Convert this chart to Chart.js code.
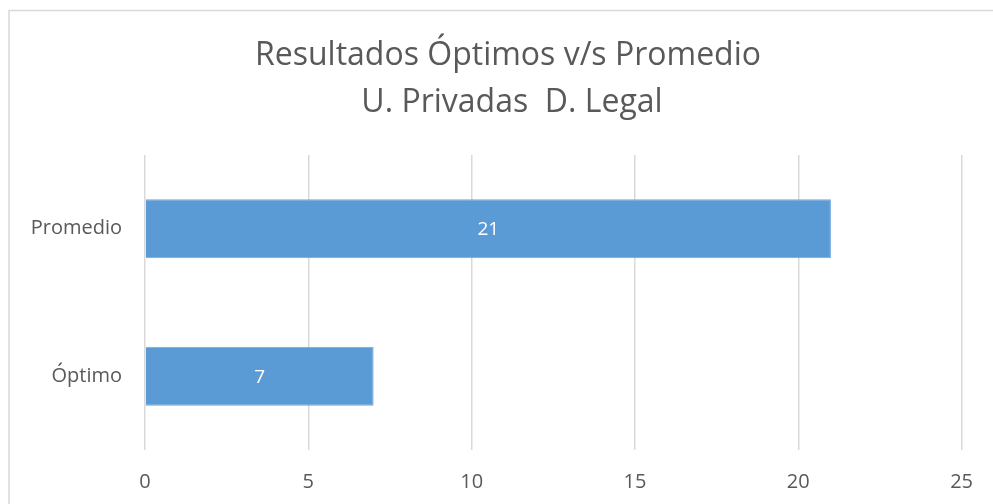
<!DOCTYPE html>
<html>
<head>
<meta charset="utf-8">
<script src="https://cdn.jsdelivr.net/npm/chart.js@4.4.1/dist/chart.umd.min.js"></script>
<style>
  html, body { margin: 0; padding: 0; background: #fff; }
  #wrap { width: 993px; height: 504px; position: relative; }
</style>
</head>
<body>
<div id="wrap"><canvas id="graphique"></canvas></div>
<script>
// Données du graphique
const categories = ["Promedio", "Óptimo"];
const valeurs = [21, 7];
const titre = ["Resultados Óptimos v/s Promedio", "U. Privadas  D. Legal"];
const ticksMin = 0;
const ticksMax = 25;
const ticksPas = 5;

const police = "'Open Sans', 'DejaVu Sans', sans-serif";
const gris = "#595959";

// Cadre gris autour du graphique + titre sur deux lignes
const cadre = {
  id: "cadre",
  beforeDraw(chart) {
    const ctx = chart.ctx;
    ctx.save();
    ctx.strokeStyle = "#d9d9d9";
    ctx.lineWidth = 1.5;
    ctx.beginPath();
    ctx.moveTo(9, 504);
    ctx.lineTo(9, 10.5);
    ctx.lineTo(993, 10.5);
    ctx.stroke();

    ctx.fillStyle = gris;
    ctx.font = "32px " + police;
    ctx.textAlign = "center";
    ctx.textBaseline = "middle";
    ctx.fillText(titre[0], 508, 56);
    ctx.fillText(titre[1], 512, 103);
    ctx.restore();
  }
};

// Étiquettes des valeurs au centre des barres
const etiquettes = {
  id: "etiquettes",
  afterDatasetsDraw(chart) {
    const ctx = chart.ctx;
    const meta = chart.getDatasetMeta(0);
    ctx.save();
    ctx.fillStyle = "#ffffff";
    ctx.font = "19px " + police;
    ctx.textAlign = "center";
    ctx.textBaseline = "middle";
    meta.data.forEach((bar, i) => {
      const x = (bar.base + bar.x) / 2;
      ctx.fillText(String(valeurs[i]), x, bar.y + 1);
    });
    ctx.restore();
  }
};

const data = {
  labels: categories,
  datasets: [
    {
      label: "Resultados",
      data: valeurs,
      backgroundColor: "#5b9bd5",
      borderColor: "#6fa8dc",
      borderWidth: 1,
      categoryPercentage: 0.8,
      barPercentage: 0.5,
    }
  ],
};

const config = {
  type: "bar",
  data: data,
  plugins: [cadre, etiquettes],
  options: {
    indexAxis: "y",
    responsive: true,
    maintainAspectRatio: false,
    animation: false,
    layout: { padding: { left: 23, right: 27, top: 155, bottom: 0 } },
    plugins: {
      legend: { display: false },
      tooltip: { enabled: false },
      title: { display: false },
    },
    scales: {
      x: {
        min: ticksMin,
        max: ticksMax,
        ticks: { stepSize: ticksPas, color: gris, font: { family: police, size: 20 }, padding: 20 },
        grid: { color: "#d9d9d9", lineWidth: 1.5, drawTicks: false },
        border: { display: false },
        afterFit(axis) { axis.height = 54; },
      },
      y: {
        ticks: { color: gris, font: { family: police, size: 20 }, padding: 23 },
        grid: { display: false, drawTicks: false },
        border: { display: false },
        afterFit(axis) { axis.width = 122; },
      },
    },
  },
};

new Chart(document.querySelector("#graphique"), config);
</script>
</body>
</html>
